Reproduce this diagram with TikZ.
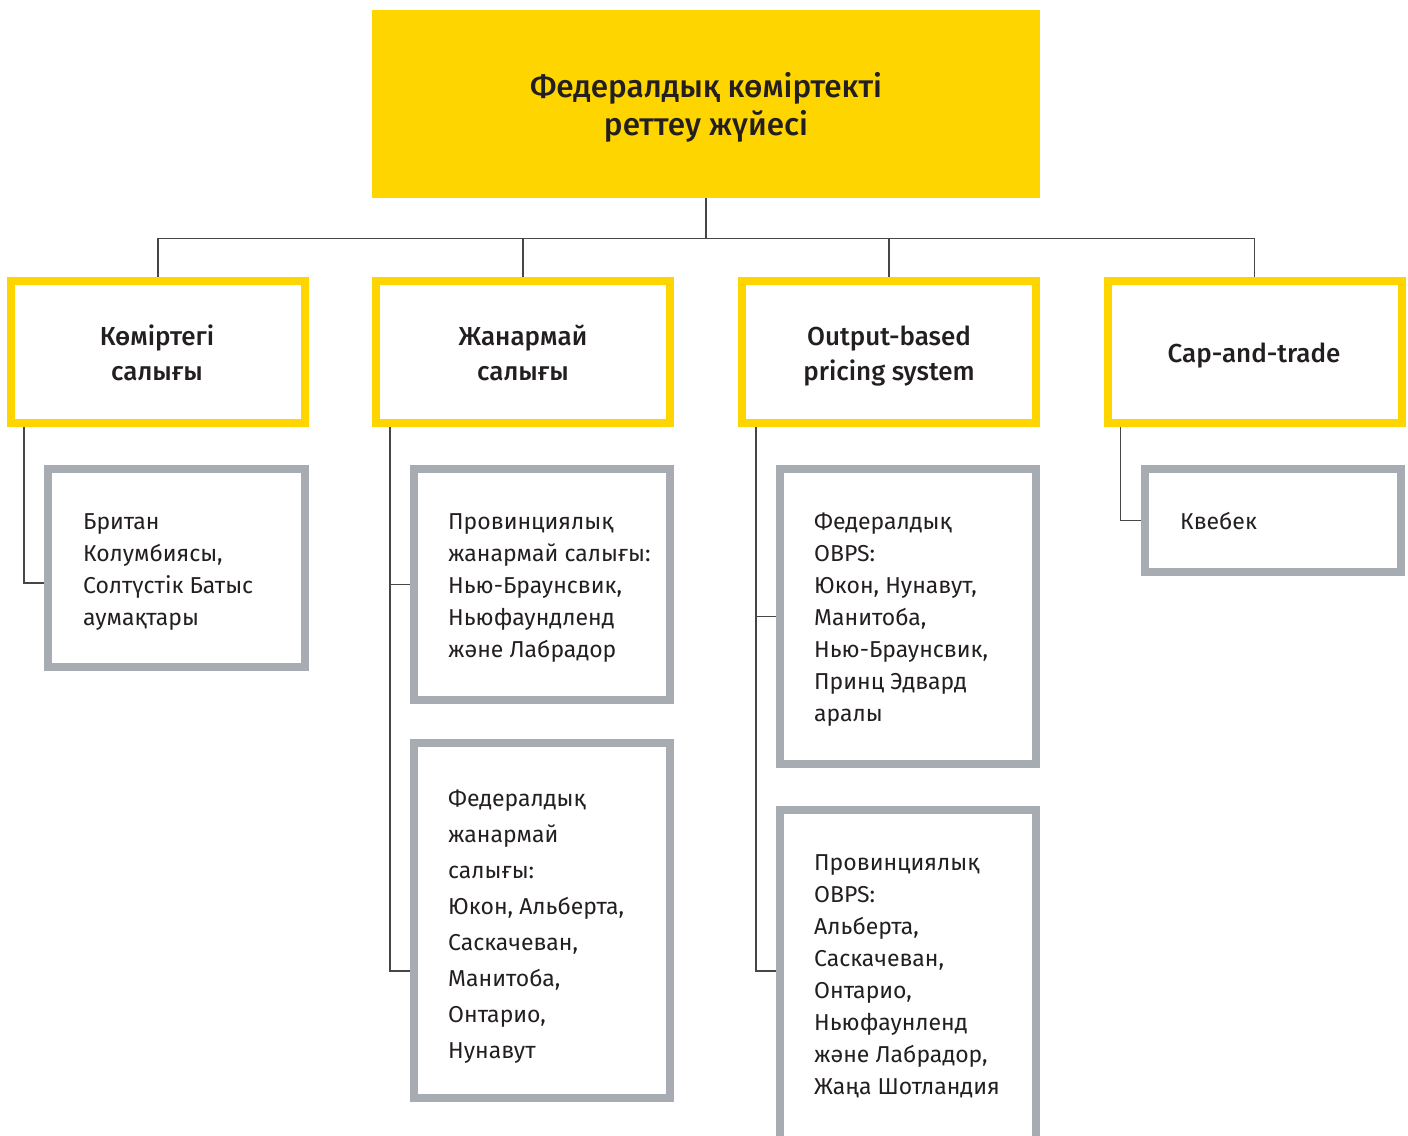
\documentclass[tikz,border=0pt]{standalone}
\usepackage{fontspec}
\setmainfont{Fira Sans}[BoldFont={Fira Sans Medium}]
\usetikzlibrary{calc}
\definecolor{eyyellow}{RGB}{255,213,0}
\definecolor{eygrey}{RGB}{166,172,178}
\definecolor{eytext}{RGB}{35,31,32}
\definecolor{eyline}{RGB}{70,70,70}
\tikzset{
  topbox/.style={rectangle, fill=eyyellow, draw=none, inner sep=0pt, minimum width=668bp, minimum height=188bp},
  catbox/.style={rectangle, draw=eyyellow, line width=8bp, inner sep=0pt, minimum width=294bp, minimum height=142bp},
  subbox/.style={rectangle, draw=eygrey, line width=8bp, inner sep=0pt, minimum width=256bp},
  toptext/.style={anchor=base, align=center, inner sep=0pt, text=eytext, font=\fontsize{31.5bp}{38bp}\selectfont\bfseries},
  cattext/.style={anchor=base, align=center, inner sep=0pt, text=eytext, font=\fontsize{26bp}{35bp}\selectfont\bfseries},
  subtext/.style={anchor=base west, align=left, inner sep=0pt, text=eytext, font=\fontsize{23bp}{32bp}\selectfont},
  conn/.style={draw=eyline, line width=1.3bp},
}
\begin{document}
\begin{tikzpicture}[x=1bp,y=-1bp]
\useasboundingbox (0,0) rectangle (1408,1135);
% top
\node[topbox] (top) at (706,104) {};
\node[toptext] (toptxt) at (706,135) {Федералдық көміртекті\\реттеу жүйесі};
% category boxes
\node[catbox] (b1) at (158,352) {};
\node[catbox] (b2) at (523,352) {};
\node[catbox] (b3) at (889,352) {};
\node[catbox] (b4) at (1254.5,352) {};
\node[cattext] (b1t) at (157,380) {Көміртегі\\салығы};
\node[cattext] (b2t) at (523,380) {Жанармай\\салығы};
\node[cattext] (b3t) at (889,380) {Output-based\\pricing system};
\node[cattext] (b4t) at (1254,362) {Cap-and-trade};
% sub boxes
\node[subbox, minimum width=257bp, minimum height=198bp] (g1) at (176.5,568) {};
\node[subbox, minimum height=231bp] (g2a) at (542,584.5) {};
\node[subbox, minimum height=355bp] (g2b) at (542,920.5) {};
\node[subbox, minimum height=295bp] (g3a) at (908,616.5) {};
\node[subbox, minimum height=331bp] (g3b) at (908,975.5) {};
\node[subbox, minimum height=103bp] (g4) at (1273,520.5) {};
\node[subtext] (g1t) at (83,625) {Британ\\Колумбиясы,\\Солтүстік Батыс\\аумақтары};
\node[subtext] (g2at) at (448,657) {Провинциялық\\жанармай салығы:\\Нью-Браунсвик,\\Ньюфаундленд\\және Лабрадор};
\node[subtext, font=\fontsize{23bp}{36bp}\selectfont] (g2bt) at (448,1058) {Федералдық\\жанармай\\салығы:\\Юкон, Альберта,\\Саскачеван,\\Манитоба,\\Онтарио,\\Нунавут};
\node[subtext] (g3at) at (814,721) {Федералдық\\OBPS:\\Юкон, Нунавут,\\Манитоба,\\Нью-Браунсвик,\\Принц Эдвард\\аралы};
\node[subtext] (g3bt) at (814,1094) {Провинциялық\\OBPS:\\Альберта,\\Саскачеван,\\Онтарио,\\Ньюфаунленд\\және Лабрадор,\\Жаңа Шотландия};
\node[subtext] (g4t) at (1180,529) {Квебек};
% connectors from top
\draw[conn] (top.south) -- ++(0,40) -| (b1.north);
\draw[conn] (top.south) -- ++(0,40) -| (b2.north);
\draw[conn] (top.south) -- ++(0,40) -| (b3.north);
\draw[conn] (top.south) -- ++(0,40) -| (b4.north);
% sub connectors
\coordinate (s1) at ($(b1.south west)+(17,0)$);
\coordinate (s2) at ($(b2.south west)+(18,0)$);
\coordinate (s3) at ($(b3.south west)+(18,0)$);
\coordinate (s4) at ($(b4.south west)+(17,0)$);
\draw[conn] (s1) |- ($(g1.west)+(0,15)$);
\draw[conn] (s2) |- (g2a.west);
\draw[conn] (s2) |- ($(g2b.west)+(0,50.5)$);
\draw[conn] (s3) |- (g3a.west);
\draw[conn] (s3) |- ($(g3b.west)+(0,-4.5)$);
\draw[conn] (s4) |- (g4.west);
\end{tikzpicture}
\end{document}
